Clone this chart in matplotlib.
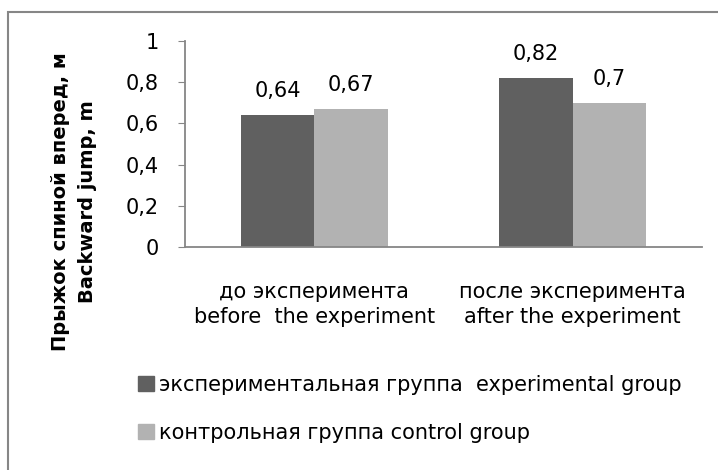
import matplotlib
matplotlib.use("Agg")
import matplotlib.pyplot as plt
from matplotlib.patches import Rectangle, Patch
import numpy as np

categories = ["до эксперимента\nbefore  the experiment", "после эксперимента\nafter the experiment"]
series_names = ["экспериментальная группа  experimental group", "контрольная группа control group"]
experimental = [0.64, 0.82]
control = [0.67, 0.70]
y_ticks = [0, 0.2, 0.4, 0.6, 0.8, 1.0]
colors = ["#606060", "#b2b2b2"]

plt.rcParams["font.family"] = ["DejaVu Sans"]


def fmt(v):
    s = ("%.2f" % v).rstrip("0").rstrip(".")
    return s.replace(".", ",")


W, H = 718, 470
fig = plt.figure(figsize=(W / 100, H / 100), dpi=100)
ax = fig.add_axes([185 / W, 1 - 247 / H, (702 - 185) / W, (247 - 41) / H])

x = np.arange(len(categories))
bw = 0.285
b1 = ax.bar(x - bw / 2, experimental, bw, color=colors[0], label=series_names[0])
b2 = ax.bar(x + bw / 2, control, bw, color=colors[1], label=series_names[1])

# value labels above each bar
for bars, vals in ((b1, experimental), (b2, control)):
    for r, v in zip(bars, vals):
        ax.annotate(fmt(v), (r.get_x() + r.get_width() / 2, v), xytext=(0, 13),
                    textcoords="offset points", ha="center", va="baseline", fontsize=15)

ax.set_xlim(-0.5, 1.5)
ax.set_ylim(0, 1)
ax.set_yticks(y_ticks)
ax.set_yticklabels([fmt(v) for v in y_ticks], fontsize=15)
ax.set_xticks(x)
ax.set_xticklabels(categories, fontsize=15, linespacing=1.35)
ax.tick_params(axis="x", length=0, pad=25)
ax.tick_params(axis="y", length=5, color="#868686", pad=14)
for s in ("top", "right"):
    ax.spines[s].set_visible(False)
for s in ("left", "bottom"):
    ax.spines[s].set_color("#868686")
    ax.spines[s].set_linewidth(1.3)

fig.text(74 / W, 1 - 202 / H, "Прыжок спиной вперед, м\nBackward jump, m", rotation=90,
         ha="center", va="center", fontsize=14, fontweight="bold", linespacing=1.55)

handles = [Patch(color=c) for c in colors]
fig.legend(handles, series_names, loc="upper left", bbox_to_anchor=(119 / W, 1 - 356 / H),
           frameon=False, fontsize=15, handlelength=0.77, handleheight=0.77,
           handletextpad=0.25, labelspacing=1.35)

# outer chart frame
fig.patches.append(Rectangle((8 / W, -0.1), 1.2, 1.1 - 12 / H, transform=fig.transFigure,
                             fill=False, edgecolor="#868686", linewidth=1.5))

fig.savefig("out.png", dpi=100)
